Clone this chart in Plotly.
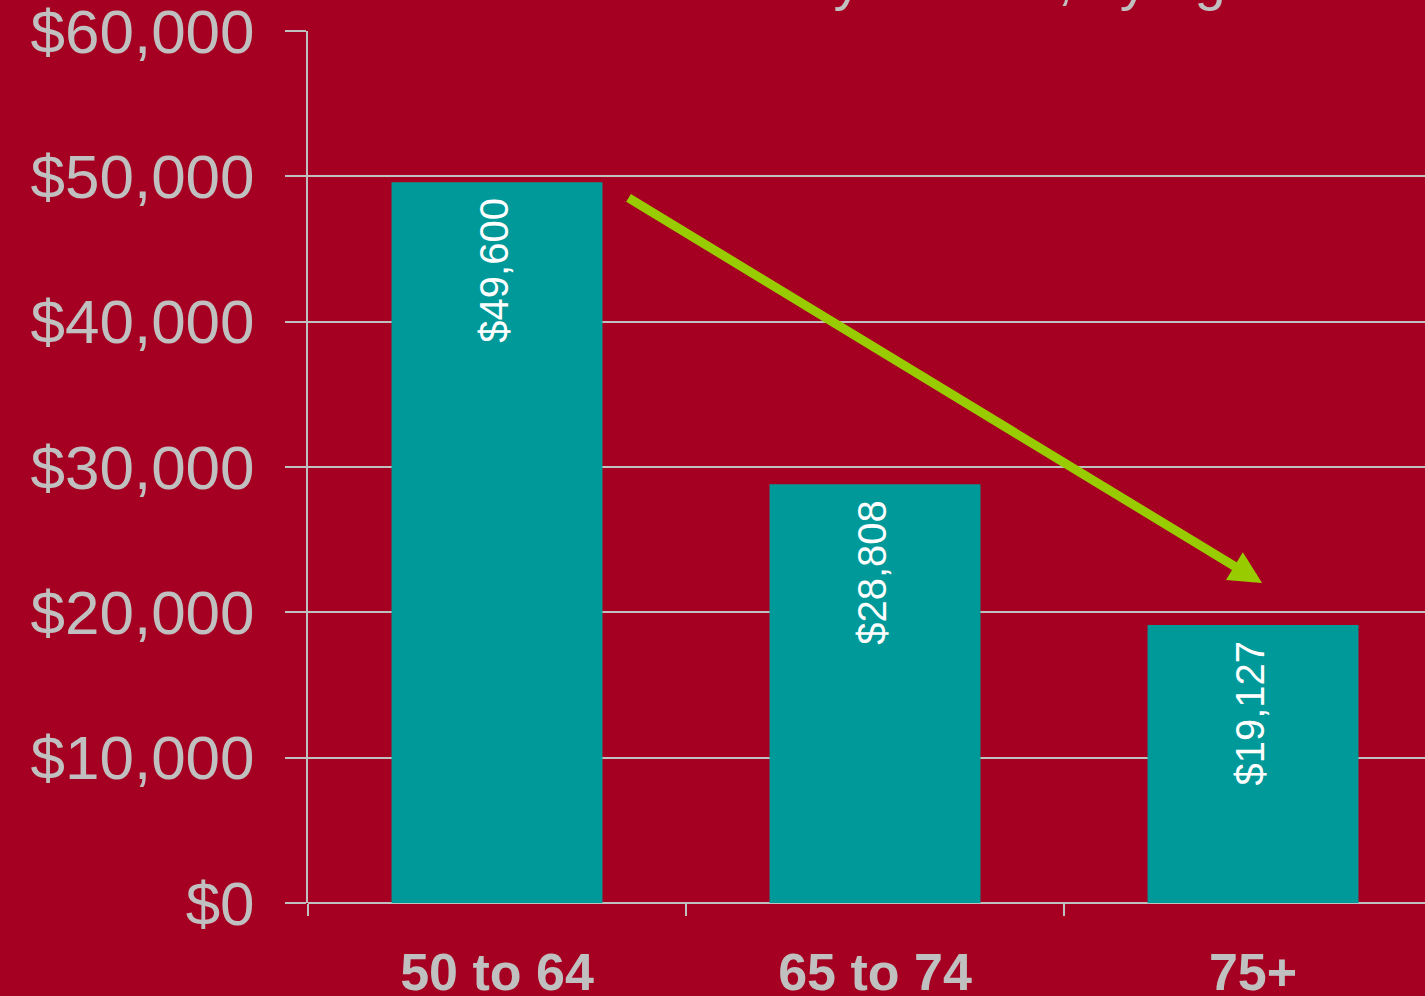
import plotly.graph_objects as go

# Median family income by age group
age_groups = ["50 to 64", "65 to 74", "75+"]
median_income = [49600, 28808, 19127]
y_ticks = [0, 10000, 20000, 30000, 40000, 50000, 60000]
title_text = "Median family income, by age"

BG = "#A50021"
TEAL = "#009999"
GREY = "#C0C0C0"
GREEN = "#99CC00"
FONT = "Liberation Sans, Arial, sans-serif"

fig = go.Figure()

fig.add_trace(go.Bar(
    x=age_groups,
    y=median_income,
    marker=dict(color=TEAL, line=dict(width=0)),
    width=0.558,
    hoverinfo="skip",
))

# Rotated value labels near the top of each bar
for cat, val in zip(age_groups, median_income):
    fig.add_annotation(
        x=cat, y=val, xref="x", yref="y",
        text=f"${val:,}",
        textangle=-90,
        showarrow=False,
        yanchor="top",
        yshift=-14,
        xshift=-3,
        font=dict(family=FONT, size=40, color="white"),
    )

# Downward trend arrow
fig.add_annotation(
    x=2.024, y=22020, xref="x", yref="y",
    ax=0.344, ay=48580, axref="x", ayref="y",
    text="",
    showarrow=True,
    arrowhead=2,
    arrowsize=0.72,
    arrowwidth=9,
    arrowcolor=GREEN,
)

# Chart heading (sits mostly above the visible page)
fig.add_annotation(
    x=(886 - 308) / 1117, y=1, xref="paper", yref="paper",
    text=title_text,
    showarrow=False,
    xanchor="center", yanchor="bottom",
    yshift=18,
    font=dict(family=FONT, size=56, color=GREY),
)

fig.update_layout(
    width=1425, height=996,
    margin=dict(l=308, r=0, t=31, b=93, autoexpand=False),
    paper_bgcolor=BG,
    plot_bgcolor=BG,
    showlegend=False,
)

fig.update_xaxes(
    type="category",
    range=[-0.5, 2.455],
    automargin=False,
    tickson="boundaries",
    ticks="outside",
    ticklen=12,
    tickwidth=2,
    tickcolor=GREY,
    showgrid=False,
    showline=False,
    ticklabelstandoff=34,
    ticklabeloverflow="allow",
    tickfont=dict(family=FONT, size=52, color=GREY, weight="bold"),
)

fig.update_yaxes(
    range=[0, 60000],
    automargin=False,
    tickvals=y_ticks,
    ticktext=[f"${v:,}" for v in y_ticks],
    ticks="outside",
    ticklen=21,
    tickwidth=2,
    tickcolor=GREY,
    showgrid=True,
    gridcolor=GREY,
    gridwidth=2,
    zeroline=True,
    zerolinecolor=GREY,
    zerolinewidth=2,
    showline=True,
    linecolor=GREY,
    linewidth=2,
    ticklabelstandoff=18,
    ticklabeloverflow="allow",
    tickfont=dict(family=FONT, size=62, color=GREY),
)

fig.write_html("out.html")
